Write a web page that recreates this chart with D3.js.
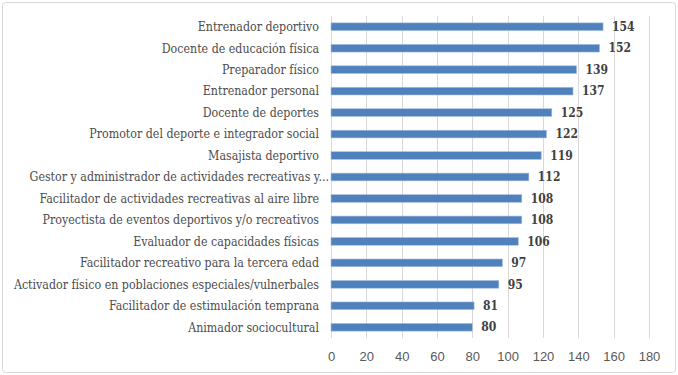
<!DOCTYPE html>
<html>
<head>
<meta charset="utf-8">
<script src="https://cdn.jsdelivr.net/npm/d3@7"></script>
<style>
  body { margin: 0; background: #fff; }
  svg { display: block; font-family: "DejaVu Serif Condensed", "DejaVu Serif", serif; font-stretch: condensed; }
</style>
</head>
<body>
<div id="chart"></div>
<script>
// Chart data
const categories = [
  "Entrenador deportivo",
  "Docente de educación física",
  "Preparador físico",
  "Entrenador personal",
  "Docente de deportes",
  "Promotor del deporte e integrador social",
  "Masajista deportivo",
  "Gestor y administrador de actividades recreativas y...",
  "Facilitador de actividades recreativas al aire libre",
  "Proyectista de eventos deportivos y/o recreativos",
  "Evaluador de capacidades físicas",
  "Facilitador recreativo para la tercera edad",
  "Activador físico en poblaciones especiales/vulnerbales",
  "Facilitador de estimulación temprana",
  "Animador sociocultural"
];
const values = [154, 152, 139, 137, 125, 122, 119, 112, 108, 108, 106, 97, 95, 81, 80];
const xTicks = [0, 20, 40, 60, 80, 100, 120, 140, 160, 180];

const width = 678, height = 375;
const margin = {top: 16, right: 29, bottom: 37, left: 331};

const svg = d3.select("#chart").append("svg")
  .attr("width", width)
  .attr("height", height);

// outer frame
svg.append("rect")
  .attr("x", 2.5).attr("y", 2.5)
  .attr("width", width - 5).attr("height", height - 5)
  .attr("rx", 3)
  .attr("fill", "#fff")
  .attr("stroke", "#d9d9d9");

const x = d3.scaleLinear()
  .domain([0, 180])
  .range([margin.left, width - margin.right]);

const y = d3.scaleBand()
  .domain(categories)
  .range([margin.top, height - margin.bottom])
  .paddingInner(0.64)
  .paddingOuter(0.32);

// gridlines
svg.append("g")
  .selectAll("line")
  .data(xTicks)
  .join("line")
  .attr("x1", d => Math.round(x(d)) + 0.5)
  .attr("x2", d => Math.round(x(d)) + 0.5)
  .attr("y1", margin.top)
  .attr("y2", height - margin.bottom)
  .attr("stroke", "#d9d9d9")
  .attr("stroke-width", 1);

// x axis labels
const xAxis = d3.axisBottom(x).tickValues(xTicks).tickSize(0).tickPadding(14);
svg.append("g")
  .attr("transform", `translate(0,${height - margin.bottom})`)
  .call(xAxis)
  .call(g => g.select(".domain").remove())
  .call(g => g.selectAll("text")
    .attr("font-family", null)
    .attr("font-size", 13)
    .attr("fill", "#595959"));

// category labels
svg.append("g")
  .selectAll("text")
  .data(categories)
  .join("text")
  .attr("x", d => d.endsWith("...") ? 329 : 319)
  .attr("y", d => y(d) + y.bandwidth() / 2)
  .attr("dy", "0.35em")
  .attr("text-anchor", "end")
  .attr("font-size", 12.3)
  .attr("fill", "#4d4d4d")
  .text(d => d);

// bars
svg.append("g")
  .selectAll("rect")
  .data(values)
  .join("rect")
  .attr("x", x(0))
  .attr("y", (d, i) => y(categories[i]))
  .attr("width", d => x(d) - x(0))
  .attr("height", y.bandwidth())
  .attr("fill", "#4f81bd")
  .attr("stroke", "#a9c1e0")
  .attr("stroke-width", 0.6);

// value labels
svg.append("g")
  .selectAll("text")
  .data(values)
  .join("text")
  .attr("x", d => x(d) + 9)
  .attr("y", (d, i) => y(categories[i]) + y.bandwidth() / 2)
  .attr("dy", "0.35em")
  .attr("font-size", 12)
  .attr("font-weight", "bold")
  .attr("fill", "#404040")
  .text(d => d);
</script>
</body>
</html>
